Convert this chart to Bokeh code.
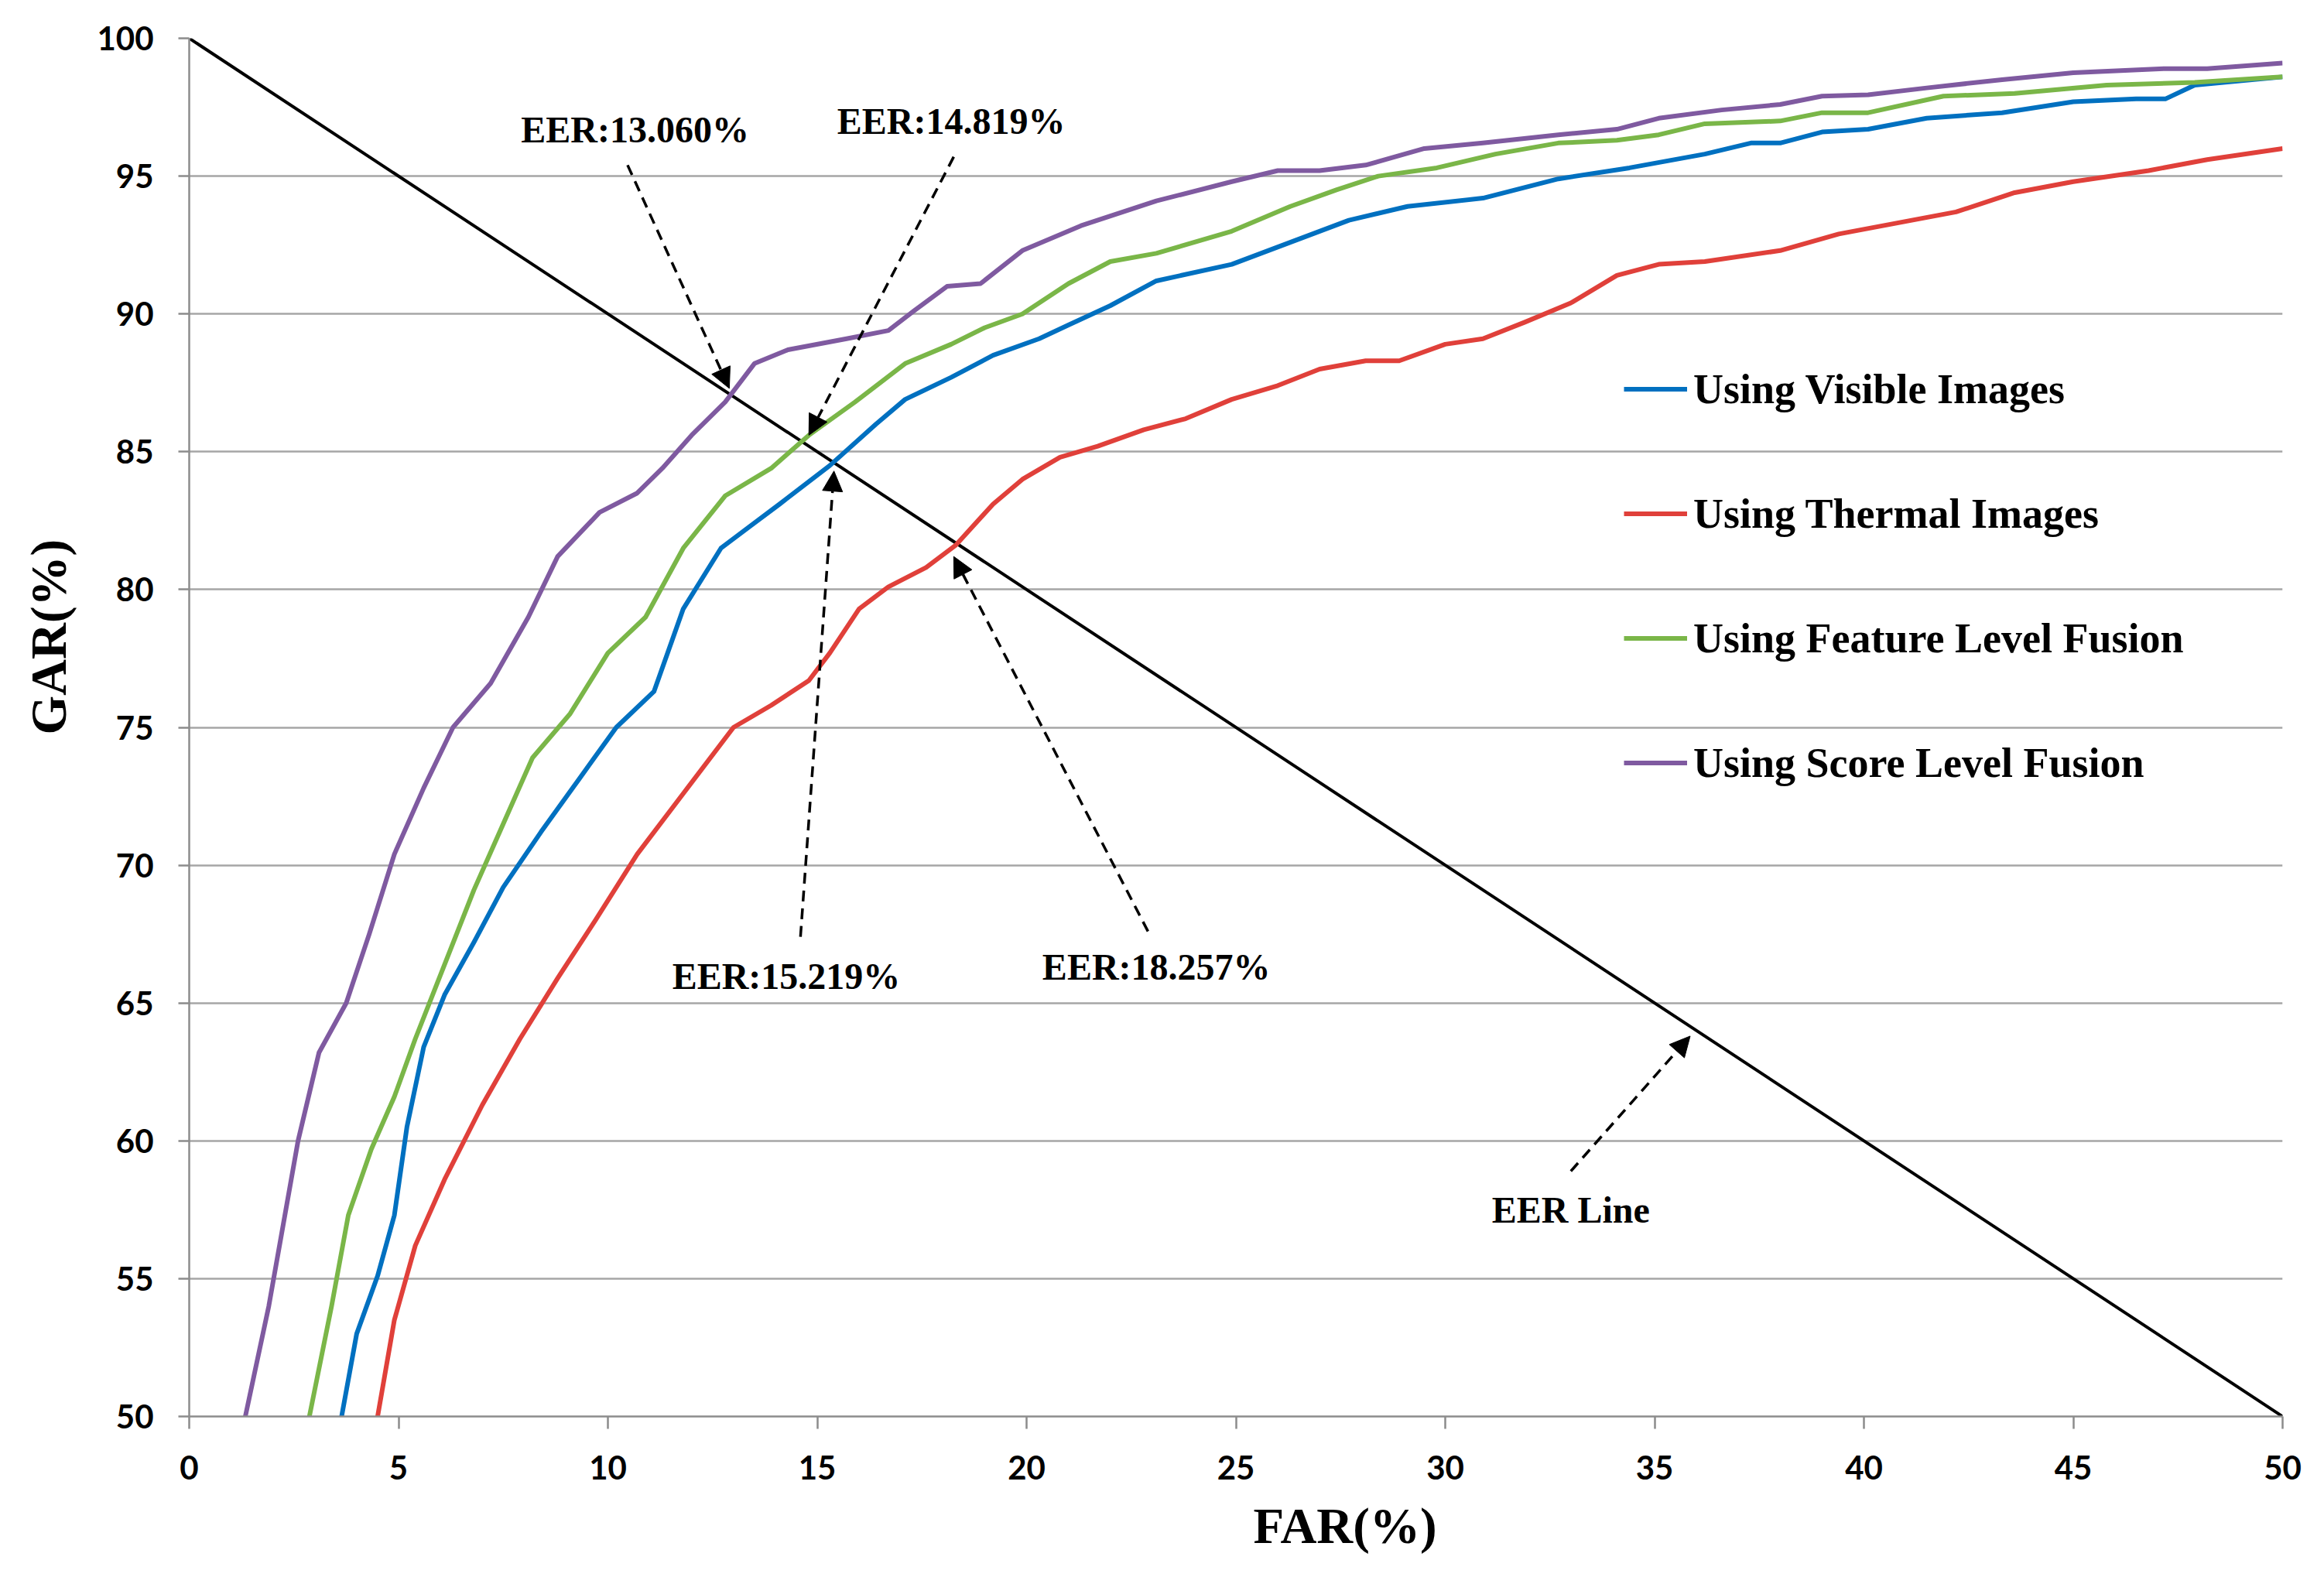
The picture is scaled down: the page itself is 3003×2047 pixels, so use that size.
from bokeh.plotting import figure
from bokeh.models import (Range1d, FixedTicker, Legend, LegendItem, Arrow,
                          NormalHead, Label, Title)
from bokeh.embed import file_html
from bokeh.resources import INLINE

# ---------------- data ----------------
vis_far = [3.64, 4.0, 4.5, 4.9, 5.2, 5.6, 6.1, 6.8, 7.5, 8.4, 9.3, 10.2, 11.1, 11.8, 12.7,
           13.4, 14.1, 15.3, 16.4, 17.1, 18.2, 19.2, 20.3, 21.0, 22.0, 23.1, 24.9, 26.3,
           27.7, 29.1, 30.9, 32.7, 34.4, 36.2, 37.3, 38.0, 39.0, 40.1, 41.5, 43.3, 45.0,
           46.5, 47.2, 47.9, 50.0]
vis_gar = [50.0, 53.0, 55.1, 57.3, 60.5, 63.4, 65.3, 67.2, 69.2, 71.2, 73.1, 75.0, 76.3,
           79.3, 81.5, 82.3, 83.1, 84.5, 86.0, 86.9, 87.7, 88.5, 89.1, 89.6, 90.3, 91.2,
           91.8, 92.6, 93.4, 93.9, 94.2, 94.9, 95.3, 95.8, 96.2, 96.2, 96.6, 96.7, 97.1,
           97.3, 97.7, 97.8, 97.8, 98.3, 98.6]

thm_far = [4.5, 4.9, 5.4, 6.1, 7.0, 7.9, 8.8, 9.7, 10.7, 11.8, 13.0, 13.9, 14.8, 15.3, 16.0,
           16.7, 17.6, 18.3, 19.2, 19.9, 20.8, 21.7, 22.8, 23.8, 24.9, 26.0, 27.0, 28.1,
           28.9, 30.0, 30.9, 31.9, 33.0, 34.1, 35.1, 36.2, 38.0, 39.4, 40.8, 42.2, 43.6,
           45.0, 46.8, 48.2, 50.0]
thm_gar = [50.0, 53.5, 56.2, 58.6, 61.3, 63.7, 65.9, 68.0, 70.4, 72.6, 75.0, 75.8, 76.7,
           77.7, 79.3, 80.1, 80.8, 81.6, 83.1, 84.0, 84.8, 85.2, 85.8, 86.2, 86.9, 87.4,
           88.0, 88.3, 88.3, 88.9, 89.1, 89.7, 90.4, 91.4, 91.8, 91.9, 92.3, 92.9, 93.3,
           93.7, 94.4, 94.8, 95.2, 95.6, 96.0]

feat_far = [2.87, 3.4, 3.8, 4.35, 4.9, 5.4, 6.1, 6.8, 7.5, 8.2, 9.1, 10.0, 10.9, 11.8, 12.8,
            13.9, 14.8, 15.9, 17.1, 18.2, 19.0, 19.9, 21.0, 22.0, 23.1, 24.9, 26.3, 27.4,
            28.4, 29.8, 31.2, 32.7, 34.1, 35.1, 36.2, 38.0, 39.0, 40.1, 41.9, 43.6, 45.8,
            47.9, 50.0]
feat_gar = [50.0, 54.0, 57.3, 59.7, 61.6, 63.7, 66.4, 69.1, 71.5, 73.9, 75.5, 77.7, 79.0,
            81.5, 83.4, 84.4, 85.6, 86.8, 88.2, 88.9, 89.5, 90.0, 91.1, 91.9, 92.2, 93.0,
            93.9, 94.5, 95.0, 95.3, 95.8, 96.2, 96.3, 96.5, 96.9, 97.0, 97.3, 97.3, 97.9,
            98.0, 98.3, 98.4, 98.6]

score_far = [1.34, 1.9, 2.6, 3.1, 3.75, 4.3, 4.9, 5.6, 6.3, 7.2, 8.1, 8.8, 9.8, 10.7, 11.3,
             12.0, 12.8, 13.5, 14.3, 15.7, 16.7, 17.3, 18.1, 18.9, 19.9, 21.3, 23.1, 24.9,
             26.0, 27.0, 28.1, 29.5, 30.9, 32.7, 34.1, 35.1, 36.6, 38.0, 39.0, 40.1, 41.5,
             43.3, 45.0, 47.2, 48.2, 50.0]
score_gar = [50.0, 54.0, 60.0, 63.2, 65.0, 67.5, 70.4, 72.8, 75.0, 76.6, 79.0, 81.2, 82.8,
             83.5, 84.4, 85.6, 86.8, 88.2, 88.7, 89.1, 89.4, 90.1, 91.0, 91.1, 92.3, 93.2,
             94.1, 94.8, 95.2, 95.2, 95.4, 96.0, 96.2, 96.5, 96.7, 97.1, 97.4, 97.6, 97.9,
             97.95, 98.2, 98.5, 98.75, 98.9, 98.9, 99.1]

eer_far = [0, 50]
eer_gar = [100, 50]

x_ticks = [0, 5, 10, 15, 20, 25, 30, 35, 40, 45, 50]
y_ticks = [50, 55, 60, 65, 70, 75, 80, 85, 90, 95, 100]

series_names = ["Using Visible Images", "Using Thermal Images",
                "Using Feature Level Fusion", "Using Score Level Fusion"]
series_colors = ["#0070C0", "#E0403A", "#7AB648", "#7F5AA0"]

# annotations: text, text x, text y, arrow start x/y, arrow end x/y
ann_text = ["EER:13.060%", "EER:14.819%", "EER:15.219%", "EER:18.257%", "EER Line"]
ann_tx = [10.65, 18.2, 14.26, 23.1, 33.0]
ann_ty = [96.7, 97.0, 65.97, 66.3, 57.5]
arr_x0 = [10.47, 18.26, 14.6, 22.9, 33.0]
arr_y0 = [95.4, 95.7, 67.4, 67.6, 58.9]
arr_x1 = [12.9, 14.8, 15.4, 18.26, 35.85]
arr_y1 = [87.3, 85.6, 84.3, 81.2, 63.8]

x_title, y_title = "FAR(%)", "GAR(%)"

# ---------------- figure ----------------
SERIF = "Liberation Serif"
p = figure(width=2985, height=2030, output_backend="svg", toolbar_location=None,
           x_range=Range1d(0, 50), y_range=Range1d(50, 100),
           min_border_left=243, min_border_right=36, min_border_top=49,
           min_border_bottom=200)
p.outline_line_color = None
p.background_fill_color = "white"

p.xgrid.grid_line_color = None
p.ygrid.grid_line_color = "#A6A6A6"
p.ygrid.grid_line_width = 2.5
p.ygrid.ticker = FixedTicker(ticks=y_ticks)

for ax, ticks in ((p.xaxis, x_ticks), (p.yaxis, y_ticks)):
    ax.ticker = FixedTicker(ticks=ticks)
    ax.axis_line_color = "#8C8C8C"
    ax.axis_line_width = 2.5
    ax.major_tick_line_color = "#8C8C8C"
    ax.major_tick_line_width = 2.5
    ax.major_tick_in = 0
    ax.minor_tick_line_color = None
    ax.major_label_text_font = "Lato"
    ax.major_label_text_font_style = "bold"
    ax.major_label_text_font_size = "42px"
    ax.major_label_text_color = "black"

p.xaxis.major_tick_out = 16
p.xaxis.major_label_standoff = 34
p.yaxis.major_tick_out = 14
p.yaxis.major_label_standoff = 32

# axis titles, shifted off-centre as in the original
p.add_layout(Title(text=x_title, align="left", offset=1375, standoff=38,
                   text_font=SERIF, text_font_style="bold", text_font_size="65px",
                   text_color="black"), "below")
p.add_layout(Title(text=y_title, align="left", offset=881, standoff=48,
                   text_font=SERIF, text_font_style="bold", text_font_size="65px",
                   text_color="black"), "left")

# EER line
p.line(eer_far, eer_gar, line_color="black", line_width=4)

# curves
renderers = []
for (fx, gy), col in zip([(vis_far, vis_gar), (thm_far, thm_gar),
                          (feat_far, feat_gar), (score_far, score_gar)], series_colors):
    r = p.line(fx, gy, line_color=col, line_width=6, line_join="round")
    renderers.append(r)

# arrows + labels
for i in range(len(ann_text)):
    p.add_layout(Arrow(end=NormalHead(size=26, fill_color="black", line_color="black",
                                      line_width=1),
                       x_start=arr_x0[i], y_start=arr_y0[i],
                       x_end=arr_x1[i], y_end=arr_y1[i],
                       line_color="black", line_width=3.5, line_dash="14 9"))
    p.add_layout(Label(x=ann_tx[i], y=ann_ty[i], text=ann_text[i],
                       text_align="center", text_baseline="middle",
                       text_font=SERIF, text_font_size="48px", text_color="black",
                       text_font_style="bold"))

legend = Legend(items=[LegendItem(label=n, renderers=[r])
                       for n, r in zip(series_names, renderers)],
                location=(1854, 764), orientation="vertical",
                spacing=0, padding=0, margin=0,
                glyph_width=82, glyph_height=161, label_height=161,
                label_standoff=8,
                label_text_font=SERIF, label_text_font_size="54px",
                label_text_color="black", label_text_font_style="bold",
                border_line_color=None, background_fill_alpha=0)
p.add_layout(legend, "center")

open("out.html", "w").write(file_html(p, INLINE))
